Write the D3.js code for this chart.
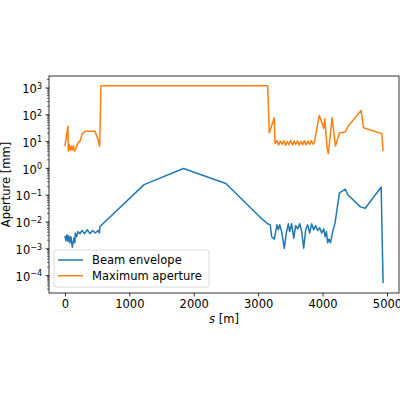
<!DOCTYPE html>
<html>
<head>
<meta charset="utf-8">
<script src="https://cdn.jsdelivr.net/npm/d3@7"></script>
<style>
  body { margin: 0; background: #fff; }
  svg { font-family: "DejaVu Sans", sans-serif; }
</style>
</head>
<body>
<div id="chart"></div>
<script>
// beam envelope, s [m] and size [mm]
const envS = [0, 16, 31, 47, 62, 78, 93, 115, 140, 155, 161, 182, 203, 234, 265, 306, 348, 389, 431, 472, 514, 535, 545,
  1229, 1841, 2499, 3044, 3148, 3188, 3210, 3251, 3292, 3313, 3334, 3365, 3406, 3437, 3469, 3489, 3521, 3552, 3583,
  3614, 3645, 3676, 3707, 3738, 3769, 3800, 3831, 3862, 3893, 3924, 3956, 3987, 4018, 4039, 4060, 4080, 4101, 4122,
  4158, 4194, 4262, 4355, 4392, 4588, 4661, 4910, 4940];
const envV = [0.0029, 0.0019, 0.0032, 0.0018, 0.0029, 0.0016, 0.0027, 0.0011, 0.0024, 0.0016, 0.0037, 0.0027, 0.0042,
  0.0035, 0.0046, 0.0035, 0.0049, 0.0035, 0.0046, 0.0037, 0.0046, 0.0037, 0.0065,
  0.237, 0.95, 0.26, 0.0134, 0.0082, 0.0075, 0.0027, 0.0022, 0.0075, 0.0049, 0.0075, 0.0042, 0.001, 0.0037, 0.0082,
  0.0042, 0.0082, 0.0024, 0.007, 0.0053, 0.0082, 0.0042, 0.001, 0.0049, 0.0075, 0.0037, 0.0082, 0.0049, 0.007,
  0.0046, 0.0058, 0.0037, 0.0053, 0.0027, 0.0042, 0.0016, 0.0022, 0.0016, 0.0042, 0.0087, 0.116, 0.16, 0.1, 0.035,
  0.031, 0.19, 0.00005];

// maximum aperture
const apS = [0, 47, 53, 68, 84, 100, 115, 131, 151, 171, 203, 234, 270, 322, 467, 514, 540, 560, 3148, 3173, 3251,
  3262, 3292, 3318, 3345, 3372, 3398, 3425, 3452, 3478, 3505, 3532, 3558, 3585, 3612, 3638, 3665, 3692, 3718, 3745,
  3772, 3798, 3825, 3852, 3873, 3950, 4019, 4035, 4070, 4090, 4148, 4200, 4262, 4355, 4392, 4599, 4635, 4920, 4940];
const apV = [6.4, 36, 4.2, 7.4, 4.6, 6.4, 4.6, 6.7, 4.2, 5.3, 8.6, 9.9, 19, 23.5, 23.5, 11.5, 6.4, 1150, 1150, 20.5,
  75, 8, 10.5, 7.2, 10, 7.5, 10.3, 7, 9.8, 7.4, 10.5, 7.1, 10, 7.6, 10.2, 7, 9.9, 7.3, 10.4, 7.2, 10, 7.5, 10.3,
  7.6, 9, 91, 30, 68, 5.6, 3.4, 75, 6.5, 20, 22, 34, 140, 31.5, 19, 4.2];

const yTicks = [1e-4, 1e-3, 1e-2, 1e-1, 1e0, 1e1, 1e2, 1e3];
const yExps = ['\u22124', '\u22123', '\u22122', '\u22121', '0', '1', '2', '3'];
const xTicks = [0, 1000, 2000, 3000, 4000, 5000];
const seriesNames = ['Beam envelope', 'Maximum aperture'];
const colors = ['#1f77b4', '#ff7f0e'];

const width = 400, height = 400;
const margin = {top: 76, right: 1, bottom: 107, left: 49};
const fs = '11.5px';

const svg = d3.select('#chart').append('svg')
  .attr('width', width).attr('height', height);

const allS = envS.concat(apS);
const allV = envV.concat(apV);
const sMin = d3.min(allS), sMax = d3.max(allS);
const sPad = (sMax - sMin) * 0.05;
const lMin = Math.log10(d3.min(allV)), lMax = Math.log10(d3.max(allV));
const lPad = (lMax - lMin) * 0.05;

const x = d3.scaleLinear()
  .domain([sMin - sPad, sMax + sPad])
  .range([margin.left, width - margin.right]);
const y = d3.scaleLog()
  .domain([Math.pow(10, lMin - lPad), Math.pow(10, lMax + lPad)])
  .range([height - margin.bottom, margin.top]);

const line = d3.line().x(d => x(d[0])).y(d => y(d[1]));

// the lines
[[envS, envV], [apS, apV]].forEach(([s, v], i) => {
  svg.append('path')
    .datum(s.map((d, j) => [d, v[j]]))
    .attr('fill', 'none')
    .attr('stroke', colors[i])
    .attr('stroke-width', 1.5)
    .attr('stroke-linejoin', 'round')
    .attr('d', line);
});

// frame
svg.append('rect')
  .attr('x', margin.left).attr('y', margin.top)
  .attr('width', width - margin.left - margin.right)
  .attr('height', height - margin.top - margin.bottom)
  .attr('fill', 'none').attr('stroke', '#000').attr('stroke-width', 0.8);

// x axis
const xAxis = svg.append('g')
  .attr('transform', `translate(0,${height - margin.bottom})`)
  .call(d3.axisBottom(x).tickValues(xTicks).tickSize(3.5).tickPadding(3.5).tickFormat(d3.format('d')));
xAxis.select('.domain').remove();
xAxis.selectAll('line').attr('stroke-width', 0.8);
xAxis.selectAll('text').attr('font-size', fs).attr('font-family', 'DejaVu Sans').attr('fill', '#000');

// y axis: minor ticks then major
const minor = [];
for (let e = -5; e <= 3; e++) {
  for (let m = 2; m <= 9; m++) {
    const v = m * Math.pow(10, e);
    if (v >= y.domain()[0] && v <= y.domain()[1]) minor.push(v);
  }
}
svg.append('g').selectAll('line').data(minor).enter().append('line')
  .attr('x1', margin.left - 2).attr('x2', margin.left)
  .attr('y1', d => y(d)).attr('y2', d => y(d))
  .attr('stroke', '#000').attr('stroke-width', 0.6);

const yAxis = svg.append('g')
  .attr('transform', `translate(${margin.left},0)`)
  .call(d3.axisLeft(y).tickValues(yTicks).tickSize(3.5).tickPadding(3.5).tickFormat(''));
yAxis.select('.domain').remove();
yAxis.selectAll('line').attr('stroke-width', 0.8);
yAxis.selectAll('.tick').each(function(d, i) {
  const t = d3.select(this).select('text')
    .attr('font-size', fs).attr('font-family', 'DejaVu Sans').attr('fill', '#000')
    .attr('dy', '0.45em');
  t.append('tspan').text('10');
  t.append('tspan').attr('dy', '-0.55em').attr('font-size', '8px').text(yExps[i]);
});

// axis labels
const xl = svg.append('text')
  .attr('x', (margin.left + width - margin.right) / 2)
  .attr('y', 323)
  .attr('text-anchor', 'middle')
  .attr('font-size', fs);
xl.append('tspan').attr('font-style', 'italic').text('s');
xl.append('tspan').text(' [m]');

svg.append('text')
  .attr('transform', `translate(10,${(margin.top + height - margin.bottom) / 2}) rotate(-90)`)
  .attr('text-anchor', 'middle')
  .attr('font-size', fs)
  .text('Aperture [mm]');

// legend
const legend = svg.append('g');
legend.append('rect')
  .attr('x', 54).attr('y', 250).attr('width', 155).attr('height', 37).attr('rx', 2)
  .attr('fill', '#fff').attr('fill-opacity', 0.8)
  .attr('stroke', '#d0d0d0').attr('stroke-width', 0.8);
seriesNames.forEach((name, i) => {
  const ly = 260 + i * 15.7;
  legend.append('line')
    .attr('x1', 58).attr('x2', 83).attr('y1', ly).attr('y2', ly)
    .attr('stroke', colors[i]).attr('stroke-width', 1.5);
  legend.append('text')
    .attr('x', 92).attr('y', ly).attr('dy', '0.35em')
    .attr('font-size', fs)
    .text(name);
});
</script>
</body>
</html>
